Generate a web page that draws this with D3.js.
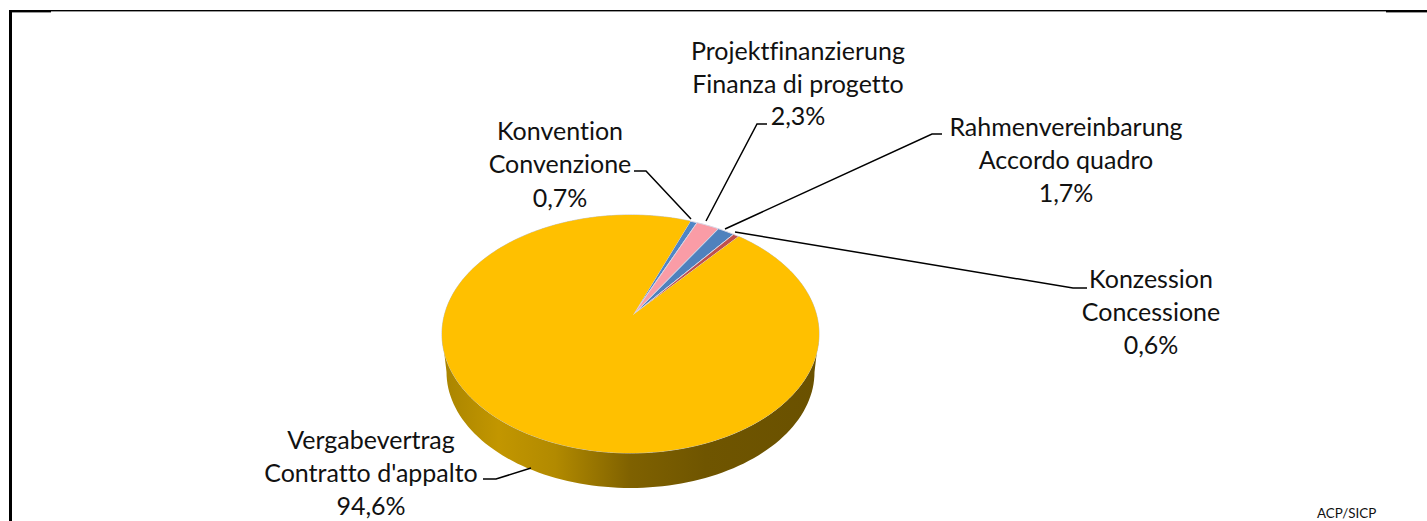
<!DOCTYPE html>
<html lang="en">

<head>
   <meta charset="utf-8">
   <script src="https://d3js.org/d3.v7.min.js"></script>
   <title>ACP/SICP</title>
   <style>
      body { margin: 0; background: #fff; }
      svg { display: block; }
      text { font-family: Lato, "Open Sans", sans-serif; fill: #111; font-variant-ligatures: none; }
   </style>
</head>

<body>
   <div id="chart"></div>

   <script type="text/javascript">

      // Chart data
      var germanNames = ["Vergabevertrag", "Konvention", "Projektfinanzierung", "Rahmenvereinbarung", "Konzession"];
      var italianNames = ["Contratto d'appalto", "Convenzione", "Finanza di progetto", "Accordo quadro", "Concessione"];
      var shares = [94.6, 0.7, 2.3, 1.7, 0.6];
      var colors = ["#FFC000", "#4F86C6", "#FA9CA6", "#4F81BD", "#C0504D"];
      var sourceNote = "ACP/SICP";

      // Label layout: centre x, first baseline, and the leader line running to the slice
      var labelPos = [
         { x: 371, y: 448.5, dy: 33, leader: [[483, 479], [496, 479], [531, 468]] },
         { x: 560, y: 139.5, dy: 33.5, leader: [[634, 171], [646, 171], [691, 219]] },
         { x: 798, y: 60, dy: 32.5, leader: [[767, 124], [757, 124], [706, 221]] },
         { x: 1066, y: 135.5, dy: 33, leader: [[942, 134], [932, 134], [725, 229]] },
         { x: 1151, y: 288, dy: 33, leader: [[1087, 288], [1073, 288], [735, 232]] }
      ];

      var width = 1427, height = 521;

      // Top face is an ellipse, the apex sits off centre because of the perspective
      var top3d = { cx: 630.5, cy: 334, rx: 188.5, ry: 119 };
      var bottom3d = { cx: 630.5, cy: 372, rx: 184, ry: 116 };
      var apex = { x: 633, y: 315 };
      var rotation = 40 * Math.PI / 180;

      var svg = d3.select("#chart")
         .append("svg")
         .attr("width", width)
         .attr("height", height);

      // Side wall shading
      var gradient = svg.append("defs")
         .append("linearGradient")
         .attr("id", "wall")
         .attr("gradientUnits", "userSpaceOnUse")
         .attr("x1", top3d.cx - top3d.rx).attr("x2", top3d.cx + top3d.rx)
         .attr("y1", 0).attr("y2", 0);
      [[0, "#a98400"], [0.15, "#c29600"], [0.3, "#b28a00"], [0.5, "#7f6100"], [0.7, "#6f5500"], [1, "#6a5100"]]
         .forEach(function (s) {
            gradient.append("stop").attr("offset", s[0]).attr("stop-color", s[1]);
         });

      // Frame
      var frame = [[9, 10, 1418, 1.4], [9, 10, 42, 2.4], [1386, 10, 41, 2.4], [9, 10, 3, 511]];
      svg.selectAll(".frame")
         .data(frame)
         .enter()
         .append("rect")
         .attr("class", "frame")
         .attr("x", d => d[0])
         .attr("y", d => d[1])
         .attr("width", d => d[2])
         .attr("height", d => d[3])
         .attr("fill", "#000");

      // Moves a point on the unit circle so that the circle centre lands on the apex
      var px = (apex.x - top3d.cx) / top3d.rx,
         py = (apex.y - top3d.cy) / top3d.ry,
         beta = Math.sqrt(px * px + py * py),
         gamma = 1 / Math.sqrt(1 - beta * beta);

      function rimPoint(angle) {
         var u = Math.sin(angle), v = -Math.cos(angle);
         var along = (u * px + v * py) / beta,
            side = (-u * py + v * px) / beta;
         var w = 1 + beta * along,
            a = (along + beta) / w,
            s = side / (gamma * w);
         return [
            top3d.cx + top3d.rx * (a * px - s * py) / beta,
            top3d.cy + top3d.ry * (a * py + s * px) / beta
         ];
      }

      var line = d3.line();

      // Side wall, lower half of both ellipses
      var steps = d3.range(0, 181, 2).map(d => d * Math.PI / 180);
      var wallPoints = steps.map(t => [top3d.cx + top3d.rx * Math.cos(t), top3d.cy + top3d.ry * Math.sin(t)])
         .concat(steps.slice().reverse().map(t => [bottom3d.cx + bottom3d.rx * Math.cos(t), bottom3d.cy + bottom3d.ry * Math.sin(t)]));

      svg.append("path")
         .attr("d", line(wallPoints) + "Z")
         .attr("fill", "url(#wall)");

      // Slices of the top face
      var pie = d3.pie()
         .sort(null)
         .startAngle(rotation)
         .endAngle(rotation + 2 * Math.PI);

      var arcs = pie(shares);

      function slicePath(d) {
         var n = Math.max(2, Math.ceil((d.endAngle - d.startAngle) * 60));
         var pts = [[apex.x, apex.y]];
         d3.range(n + 1).forEach(function (i) {
            pts.push(rimPoint(d.startAngle + (d.endAngle - d.startAngle) * i / n));
         });
         return line(pts) + "Z";
      }

      svg.selectAll(".slice")
         .data(arcs)
         .enter()
         .append("path")
         .attr("class", "slice")
         .attr("d", slicePath)
         .attr("fill", (d, i) => colors[i])
         .attr("stroke", (d, i) => i === 0 ? "#c9c4b4" : "#d8d6e6")
         .attr("stroke-width", 1)
         .attr("stroke-linejoin", "round");

      // Redraw the gold without its outline over the inner seam
      svg.append("path")
         .attr("d", slicePath(arcs[0]))
         .attr("fill", colors[0]);

      // Leader lines
      svg.selectAll(".leader")
         .data(labelPos)
         .enter()
         .append("path")
         .attr("class", "leader")
         .attr("d", d => line(d.leader))
         .attr("fill", "none")
         .attr("stroke", "#000")
         .attr("stroke-width", 1.5);

      // Labels
      var labels = svg.selectAll(".label")
         .data(shares)
         .enter()
         .append("text")
         .attr("class", "label")
         .attr("text-anchor", "middle")
         .style("font-size", "25px");

      labels.each(function (d, i) {
         var rows = [germanNames[i], italianNames[i], String(d).replace(".", ",") + "%"];
         var pos = labelPos[i];
         d3.select(this).selectAll("tspan")
            .data(rows)
            .enter()
            .append("tspan")
            .attr("x", pos.x)
            .attr("y", (r, k) => pos.y + k * pos.dy)
            .text(r => r);
      });

      // Source note
      svg.append("text")
         .attr("x", 1317)
         .attr("y", 518)
         .style("font-size", "13.4px")
         .text(sourceNote);

   </script>
</body>

</html>
